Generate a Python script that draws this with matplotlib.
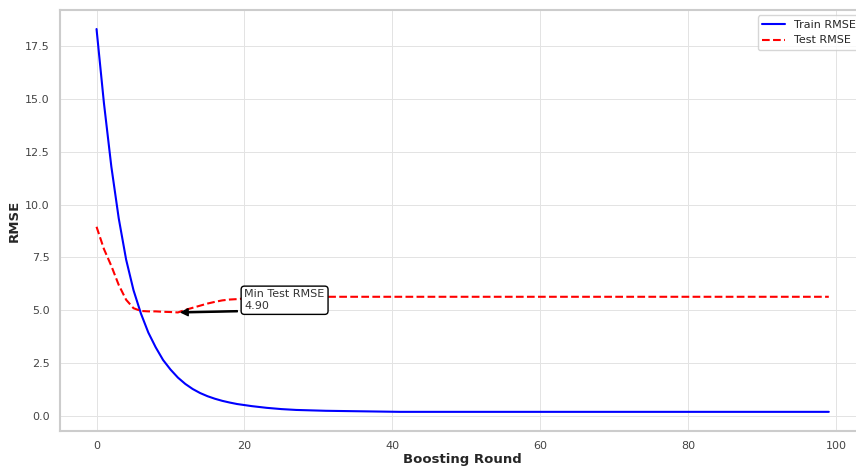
import matplotlib
matplotlib.use("Agg")
from matplotlib import pyplot as plt
import seaborn as sns

# ######################################### Data #######################################################################

rounds = list(range(100))

train_rmse = [18.30, 14.80, 11.80, 9.35, 7.40, 5.95, 4.85, 3.95, 3.25, 2.65,
              2.20, 1.82, 1.52, 1.28, 1.09, 0.94, 0.82, 0.72, 0.64, 0.57,
              0.52, 0.47, 0.43, 0.39, 0.36, 0.33, 0.31, 0.29, 0.28, 0.27,
              0.26, 0.25, 0.245, 0.24, 0.235, 0.23, 0.225, 0.22, 0.215, 0.21,
              0.205, 0.20, 0.20, 0.20, 0.20, 0.20, 0.20, 0.20, 0.20, 0.20,
              0.20, 0.20, 0.20, 0.20, 0.20, 0.20, 0.20, 0.20, 0.20, 0.20,
              0.20, 0.20, 0.20, 0.20, 0.20, 0.20, 0.20, 0.20, 0.20, 0.20,
              0.20, 0.20, 0.20, 0.20, 0.20, 0.20, 0.20, 0.20, 0.20, 0.20,
              0.20, 0.20, 0.20, 0.20, 0.20, 0.20, 0.20, 0.20, 0.20, 0.20,
              0.20, 0.20, 0.20, 0.20, 0.20, 0.20, 0.20, 0.20, 0.20, 0.20]

test_rmse = [8.95, 7.90, 7.10, 6.20, 5.50, 5.10, 4.97, 4.95, 4.95, 4.93,
             4.92, 4.90, 5.02, 5.12, 5.22, 5.32, 5.40, 5.47, 5.51, 5.53,
             5.56, 5.58, 5.60, 5.61, 5.62, 5.63, 5.64, 5.64, 5.64, 5.64,
             5.64, 5.64, 5.64, 5.64, 5.64, 5.64, 5.64, 5.64, 5.64, 5.64,
             5.64, 5.64, 5.64, 5.64, 5.64, 5.64, 5.64, 5.64, 5.64, 5.64,
             5.64, 5.64, 5.64, 5.64, 5.64, 5.64, 5.64, 5.64, 5.64, 5.64,
             5.64, 5.64, 5.64, 5.64, 5.64, 5.64, 5.64, 5.64, 5.64, 5.64,
             5.64, 5.64, 5.64, 5.64, 5.64, 5.64, 5.64, 5.64, 5.64, 5.64,
             5.64, 5.64, 5.64, 5.64, 5.64, 5.64, 5.64, 5.64, 5.64, 5.64,
             5.64, 5.64, 5.64, 5.64, 5.64, 5.64, 5.64, 5.64, 5.64, 5.64]

# ############################################## Plot ##################################################################

sns.set_style("whitegrid")
plt.rcParams['font.family'] = ['DejaVu Sans']

fig = plt.figure(figsize=(8.56, 4.70), dpi=100)
ax = fig.add_axes([0.070, 0.083, 0.941, 0.896])

ax.plot(rounds, train_rmse, color='blue', linestyle='-', linewidth=1.5, label='Train RMSE')
ax.plot(rounds, test_rmse, color='red', linestyle='--', linewidth=1.5, label='Test RMSE')

# mark the best test round
best = min(range(len(test_rmse)), key=lambda i: test_rmse[i])
best_val = test_rmse[best]
ax.annotate(f"Min Test RMSE\n{best_val:.2f}", xy=(best, best_val), xytext=(20, 5.06),
            fontsize=8, color='#333333',
            bbox=dict(boxstyle='round,pad=0.3', facecolor='white', edgecolor='black'),
            arrowprops=dict(facecolor='black', edgecolor='black', width=0.8, headwidth=5, headlength=5, shrink=0.05))

ax.set_xlabel("Boosting Round", fontsize=9.5, fontweight='bold', color='#262626', labelpad=1)
ax.set_ylabel("RMSE", fontsize=9.5, fontweight='bold', color='#262626', labelpad=3)
ax.tick_params(labelsize=8, colors='#444444', pad=4)
ax.grid(True, color='#e3e3e3', linestyle='-', linewidth=0.7)
for s in ax.spines.values():
    s.set_color('#cccccc')
    s.set_linewidth(1.5)

ax.legend(loc='upper right', fontsize=8, frameon=True)

fig.savefig("out.png", dpi=100)
